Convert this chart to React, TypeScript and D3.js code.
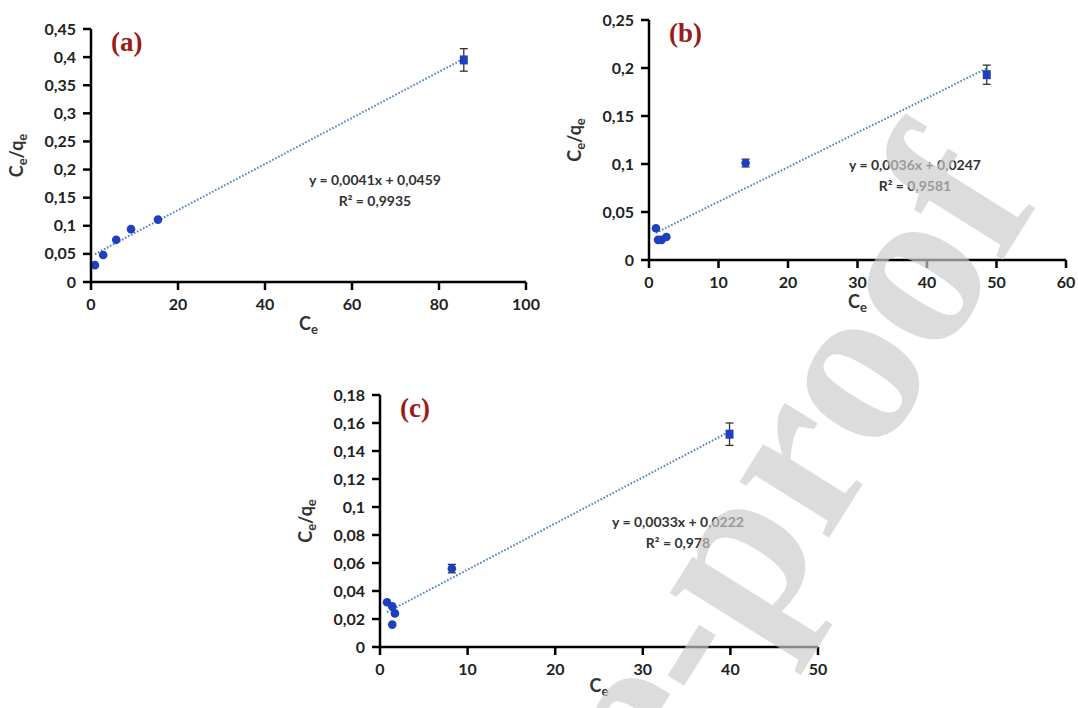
import React from 'react';
import * as d3 from 'd3';

// Langmuir linear fits, three adsorbents
const ceA = [0.9, 2.8, 5.8, 9.2, 15.4, 85.7];
const ratioA = [0.03, 0.048, 0.075, 0.094, 0.111, 0.395];
const errA = [0, 0, 0, 0, 0, 0.02];

const ceB = [1.0, 1.3, 1.8, 2.5, 13.9, 48.6];
const ratioB = [0.033, 0.021, 0.021, 0.024, 0.101, 0.193];
const errB = [0, 0, 0, 0, 0.004, 0.01];

const ceC = [0.8, 1.4, 1.7, 1.4, 8.2, 39.9];
const ratioC = [0.032, 0.029, 0.024, 0.016, 0.056, 0.152];
const errC = [0, 0, 0, 0, 0.003, 0.008];

const fitA = { slope: 0.0041, intercept: 0.0459, eq: 'y = 0,0041x + 0,0459', r2: 'R² = 0,9935' };
const fitB = { slope: 0.0036, intercept: 0.0247, eq: 'y = 0,0036x + 0,0247', r2: 'R² = 0,9581' };
const fitC = { slope: 0.0033, intercept: 0.0222, eq: 'y = 0,0033x + 0,0222', r2: 'R² = 0,978' };

const FONT = 'Lato, "Open Sans", sans-serif';
const BLUE = '#1d3fc0';
const TREND = '#4f81bd';

interface PanelProps {
  label: string;
  ce: number[];
  ratio: number[];
  err: number[];
  fit: { slope: number; intercept: number; eq: string; r2: string };
  xRange: [number, number];
  yRange: [number, number];
  xMax: number;
  yMax: number;
  xStep: number;
  yStep: number;
  eqPos: [number, number];
  titleGap?: number;
}

const fmt = (v: number) => (v === 0 ? '0' : d3.format('.2~f')(v).replace('.', ','));

const Panel: React.FC<PanelProps> = ({
  label, ce, ratio, err, fit, xRange, yRange, xMax, yMax, xStep, yStep, eqPos, titleGap = 48,
}) => {
  const x = d3.scaleLinear().domain([0, xMax]).range(xRange);
  const y = d3.scaleLinear().domain([0, yMax]).range(yRange);
  const xTicks = d3.range(0, xMax + xStep / 2, xStep);
  const yTicks = d3.range(0, yMax + yStep / 2, yStep);
  const x0 = xRange[0];
  const y0 = yRange[0];
  const lastIdx = ce.length - 1;
  const xmin = d3.min(ce) as number;
  const xmax = d3.max(ce) as number;

  return (
    <g>
      {/* trendline */}
      <line
        x1={x(xmin)}
        y1={y(fit.slope * xmin + fit.intercept)}
        x2={x(xmax)}
        y2={y(fit.slope * xmax + fit.intercept)}
        stroke={TREND}
        strokeWidth={2}
        strokeDasharray="1.6,1.8"
      />

      {/* error bars */}
      {ce.map((c, i) => err[i] > 0 && (
        <g key={`err-${i}`} stroke="#333" strokeWidth={1.3}>
          <line x1={x(c)} x2={x(c)} y1={y(ratio[i] - err[i])} y2={y(ratio[i] + err[i])} />
          <line x1={x(c) - 4} x2={x(c) + 4} y1={y(ratio[i] - err[i])} y2={y(ratio[i] - err[i])} />
          <line x1={x(c) - 4} x2={x(c) + 4} y1={y(ratio[i] + err[i])} y2={y(ratio[i] + err[i])} />
        </g>
      ))}

      {/* points */}
      {ce.map((c, i) => i === lastIdx ? (
        <rect key={`pt-${i}`} x={x(c) - 4} y={y(ratio[i]) - 4.5} width={8} height={9} fill={BLUE} />
      ) : (
        <circle key={`pt-${i}`} cx={x(c)} cy={y(ratio[i])} r={4.3} fill={BLUE} />
      ))}

      {/* x axis */}
      <line x1={x0} x2={xRange[1]} y1={y0} y2={y0} stroke="#000" strokeWidth={2.5} />
      {xTicks.map(t => (
        <g key={`xt-${t}`} transform={`translate(${x(t)},${y0})`}>
          <line y2={8} stroke="#000" strokeWidth={2.5} />
          <text y={28} textAnchor="middle" fontFamily={FONT} fontWeight="bold" fontSize={16} fill="#222">
            {t}
          </text>
        </g>
      ))}

      {/* y axis */}
      <line x1={x0} x2={x0} y1={y0} y2={yRange[1]} stroke="#000" strokeWidth={2.5} />
      {yTicks.map(t => (
        <g key={`yt-${t}`} transform={`translate(${x0},${y(t)})`}>
          <line x2={-8} stroke="#000" strokeWidth={2.5} />
          <text x={-15} dy="0.35em" textAnchor="end" fontFamily={FONT} fontWeight="bold" fontSize={16} fill="#222">
            {fmt(t)}
          </text>
        </g>
      ))}

      {/* axis titles */}
      <text
        x={(xRange[0] + xRange[1]) / 2}
        y={y0 + titleGap}
        textAnchor="middle"
        fontFamily={FONT}
        fontWeight="bold"
        fontSize={18}
        fill="#333"
      >
        C<tspan fontSize={13} dy={4}>e</tspan>
      </text>
      <text
        transform={`translate(${x0 - 68},${(yRange[0] + yRange[1]) / 2}) rotate(-90)`}
        textAnchor="middle"
        fontFamily={FONT}
        fontWeight="bold"
        fontSize={18}
        fill="#333"
      >
        C<tspan fontSize={13} dy={4}>e</tspan><tspan dy={-4}>/q</tspan><tspan fontSize={13} dy={4}>e</tspan>
      </text>

      {/* panel label */}
      <text
        x={x0 + 20}
        y={yRange[1] + 22}
        fontFamily='"Liberation Serif", "Times New Roman", serif'
        fontWeight="bold"
        fontSize={27}
        fill="#9c1a1a"
      >
        {label}
      </text>

      {/* equation */}
      <text x={eqPos[0]} y={eqPos[1]} textAnchor="middle" fontFamily={FONT} fontWeight="bold" fontSize={14} fill="#333">
        {fit.eq}
      </text>
      <text x={eqPos[0]} y={eqPos[1] + 21} textAnchor="middle" fontFamily={FONT} fontWeight="bold" fontSize={14} fill="#333">
        {fit.r2}
      </text>
    </g>
  );
};

const App: React.FC = () => (
  <svg
    width={1078}
    height={708}
    style={{ position: 'absolute', left: 0, top: 0, background: '#fff' }}
  >
    <Panel
      label="(a)"
      ce={ceA}
      ratio={ratioA}
      err={errA}
      fit={fitA}
      xRange={[91, 526]}
      yRange={[282, 29]}
      xMax={100}
      yMax={0.45}
      xStep={20}
      yStep={0.05}
      eqPos={[375, 185]}
    />
    <Panel
      label="(b)"
      ce={ceB}
      ratio={ratioB}
      err={errB}
      fit={fitB}
      xRange={[649, 1066]}
      yRange={[260, 20]}
      xMax={60}
      yMax={0.25}
      xStep={10}
      yStep={0.05}
      eqPos={[915, 170]}
    />
    <Panel
      label="(c)"
      ce={ceC}
      ratio={ratioC}
      err={errC}
      fit={fitC}
      xRange={[380, 818]}
      yRange={[647, 395]}
      xMax={50}
      yMax={0.18}
      xStep={10}
      yStep={0.02}
      eqPos={[678, 527]}
      titleGap={45}
    />

    {/* watermark */}
    <text
      transform="translate(1040,200) rotate(-58)"
      textAnchor="end"
      fontFamily='"Liberation Serif", "Times New Roman", serif'
      fontWeight="bold"
      fontSize={230}
      fill="#cbcbcb"
      fillOpacity={0.67}
    >
      Journal Pre-proof
    </text>
  </svg>
);

export default App;
